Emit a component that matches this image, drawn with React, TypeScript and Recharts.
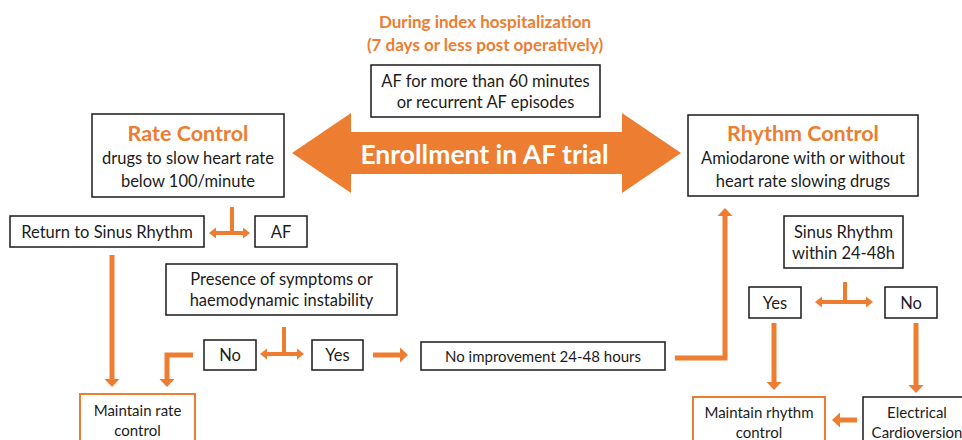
import React from 'react';
import { ScatterChart, Scatter, XAxis, YAxis } from 'recharts';

const W = 962;
const H = 440;
const ORANGE = '#ED7D31';
const INK = '#1c1c1c';
const FONT = 'Lato, "Open Sans", sans-serif';

// ---- Data: flowchart nodes (text) ----
const nodeTitles: Record<string, string> = {
  rate: 'Rate Control',
  rhythm: 'Rhythm Control',
};
const nodeLines: Record<string, string[]> = {
  af: ['AF for more than 60 minutes', 'or recurrent AF episodes'],
  rate: ['drugs to slow heart rate', 'below 100/minute'],
  rhythm: ['Amiodarone with or without', 'heart rate slowing drugs'],
  returnSR: ['Return to Sinus Rhythm'],
  afNode: ['AF'],
  presence: ['Presence of symptoms or', 'haemodynamic instability'],
  no1: ['No'],
  yes1: ['Yes'],
  noImp: ['No improvement 24-48 hours'],
  sinus: ['Sinus Rhythm', 'within 24-48h'],
  yes2: ['Yes'],
  no2: ['No'],
  maintainRate: ['Maintain rate', 'control'],
  maintainRhythm: ['Maintain rhythm', 'control'],
  electrical: ['Electrical', 'Cardioversion'],
};
// node centres in the diagram's coordinate space
const nodeCenters = [
  { id: 'af', x: 485.5, y: 91 },
  { id: 'rate', x: 188, y: 155.5 },
  { id: 'rhythm', x: 803, y: 155.5 },
  { id: 'returnSR', x: 107, y: 231.5 },
  { id: 'afNode', x: 281, y: 231.5 },
  { id: 'presence', x: 281.5, y: 289.5 },
  { id: 'no1', x: 230, y: 355 },
  { id: 'yes1', x: 337.5, y: 355 },
  { id: 'noImp', x: 543, y: 356 },
  { id: 'sinus', x: 843.5, y: 242 },
  { id: 'yes2', x: 775, y: 302.5 },
  { id: 'no2', x: 911, y: 302.5 },
  { id: 'maintainRate', x: 137.5, y: 420 },
  { id: 'maintainRhythm', x: 759, y: 422 },
  { id: 'electrical', x: 917, y: 422 },
];

// header texts
const headerLines = [
  { x: 485, y: 21, text: 'During index hospitalization' },
  { x: 485, y: 44, text: '(7 days or less post operatively)' },
];
const enrollment = [{ x: 486.5, y: 153, text: 'Enrollment in AF trial' }];

// connectors: polylines, with arrow heads at the ends where noted
type Pt = { x: number; y: number; head?: 'up' | 'down' | 'left' | 'right' };
const links: { id: string; pts: Pt[]; kind: 'main' | 'small' }[] = [
  { id: 'rateT', pts: [{ x: 232, y: 207 }, { x: 232, y: 233 }], kind: 'small' },
  { id: 'rateSplit', pts: [{ x: 243, y: 233, head: 'right' }, { x: 216, y: 233, head: 'left' }], kind: 'small' },
  { id: 'returnDown', pts: [{ x: 112, y: 255 }, { x: 112, y: 379, head: 'down' }], kind: 'main' },
  { id: 'presT', pts: [{ x: 284, y: 327 }, { x: 284, y: 354 }], kind: 'small' },
  { id: 'presSplit', pts: [{ x: 297, y: 354, head: 'right' }, { x: 267, y: 354, head: 'left' }], kind: 'small' },
  { id: 'noDown', pts: [{ x: 193, y: 355 }, { x: 167, y: 355 }, { x: 167, y: 379, head: 'down' }], kind: 'main' },
  { id: 'yesRight', pts: [{ x: 373, y: 355 }, { x: 400, y: 355, head: 'right' }], kind: 'main' },
  { id: 'noImpUp', pts: [{ x: 675, y: 358 }, { x: 725, y: 358 }, { x: 725, y: 216, head: 'up' }], kind: 'main' },
  { id: 'sinusT', pts: [{ x: 845, y: 282 }, { x: 845, y: 302 }], kind: 'small' },
  { id: 'sinusSplit', pts: [{ x: 866, y: 302, head: 'right' }, { x: 822, y: 302, head: 'left' }], kind: 'small' },
  { id: 'yes2Down', pts: [{ x: 774, y: 323 }, { x: 774, y: 382, head: 'down' }], kind: 'main' },
  { id: 'no2Down', pts: [{ x: 916, y: 323 }, { x: 916, y: 385, head: 'down' }], kind: 'main' },
  { id: 'ecLeft', pts: [{ x: 857, y: 420 }, { x: 840, y: 420, head: 'left' }], kind: 'main' },
];

// ---- Styles ----
const nodeSize: Record<string, [number, number]> = {
  af: [229, 52],
  rate: [192, 83],
  rhythm: [230, 81],
  returnSR: [194, 31],
  afNode: [52, 31],
  presence: [231, 51],
  no1: [52, 30],
  yes1: [51, 30],
  noImp: [244, 28],
  sinus: [119, 52],
  yes2: [52, 31],
  no2: [52, 31],
  maintainRate: [115, 52],
  maintainRhythm: [132, 50],
  electrical: [108, 50],
};
const orangeBorder: Record<string, boolean> = { maintainRate: true, maintainRhythm: true };
const smallText: Record<string, boolean> = {
  maintainRate: true,
  maintainRhythm: true,
  electrical: true,
  noImp: true,
};
const linkStyle = {
  main: { width: 5, headW: 15, headL: 8 },
  small: { width: 4, headW: 11, headL: 7 },
};
const bigArrow = { tip: 194.5, base: 135.5, headHalf: 40, shaftHalf: 21 };

const NodeShape = (props: any) => {
  const { cx, cy, payload } = props;
  const id = payload.id as string;
  const [w, h] = nodeSize[id];
  const lines = nodeLines[id];
  const title = nodeTitles[id];
  const fs = smallText[id] ? 15 : 16.5;
  const lh = smallText[id] ? 20 : 21;
  const stroke = orangeBorder[id] ? ORANGE : '#1a1a1a';
  const els: React.ReactNode[] = [];
  if (title) {
    els.push(
      <text key="t" x={cx} y={cy - 22.5} textAnchor="middle" dominantBaseline="central"
        fontFamily={FONT} fontWeight={700} fontSize={21.5} fill={ORANGE}>{title}</text>
    );
    lines.forEach((l, i) =>
      els.push(
        <text key={i} x={cx} y={cy + 2.5 + i * 23} textAnchor="middle" dominantBaseline="central"
          fontFamily={FONT} fontSize={fs} fill={INK}>{l}</text>
      )
    );
  } else {
    const start = cy - ((lines.length - 1) * lh) / 2;
    lines.forEach((l, i) =>
      els.push(
        <text key={i} x={cx} y={start + i * lh} textAnchor="middle" dominantBaseline="central"
          fontFamily={FONT} fontSize={fs} fill={INK}>{l}</text>
      )
    );
  }
  return (
    <g>
      <rect x={cx - w / 2} y={cy - h / 2} width={w} height={h} fill="#fff" stroke={stroke}
        strokeWidth={orangeBorder[id] ? 2 : 1.5} />
      {els}
    </g>
  );
};

const makeHead = (kind: 'main' | 'small') => (props: any) => {
  const { cx, cy, payload } = props;
  const st = linkStyle[kind];
  const hw = st.headW / 2;
  const L = st.headL;
  let pts = '';
  switch (payload.head) {
    case 'down':
      pts = `${cx - hw},${cy} ${cx + hw},${cy} ${cx},${cy + L}`;
      break;
    case 'up':
      pts = `${cx - hw},${cy} ${cx + hw},${cy} ${cx},${cy - L}`;
      break;
    case 'left':
      pts = `${cx},${cy - hw} ${cx},${cy + hw} ${cx - L},${cy}`;
      break;
    case 'right':
      pts = `${cx},${cy - hw} ${cx},${cy + hw} ${cx + L},${cy}`;
      break;
    default:
      return <g />;
  }
  return <polygon points={pts} fill={ORANGE} />;
};

const HeaderShape = (props: any) => (
  <text x={props.cx} y={props.cy} textAnchor="middle" dominantBaseline="central"
    fontFamily={FONT} fontWeight={700} fontSize={17} fill={ORANGE}>{props.payload.text}</text>
);

const BigArrowShape = (props: any) => {
  const { cx, cy, payload } = props;
  const a = bigArrow;
  const pts = [
    [cx - a.tip, cy],
    [cx - a.base, cy - a.headHalf],
    [cx - a.base, cy - a.shaftHalf],
    [cx + a.base, cy - a.shaftHalf],
    [cx + a.base, cy - a.headHalf],
    [cx + a.tip, cy],
    [cx + a.base, cy + a.headHalf],
    [cx + a.base, cy + a.shaftHalf],
    [cx - a.base, cy + a.shaftHalf],
    [cx - a.base, cy + a.headHalf],
  ].map((p) => p.join(',')).join(' ');
  return (
    <g>
      <polygon points={pts} fill={ORANGE} />
      <text x={cx - 2} y={cy + 1} textAnchor="middle" dominantBaseline="central"
        fontFamily={FONT} fontWeight={700} fontSize={26.5} fill="#fff">{payload.text}</text>
    </g>
  );
};

export default function App() {
  return (
    <div style={{ position: 'absolute', left: 0, top: 0, width: W, height: H, background: '#fff' }}>
      <ScatterChart width={W} height={H} margin={{ top: 0, right: 0, bottom: 0, left: 0 }}>
        <XAxis type="number" dataKey="x" domain={[0, W]} hide />
        <YAxis type="number" dataKey="y" domain={[0, H]} reversed hide />
        {links.map((lk) => (
          <Scatter
            key={lk.id}
            data={lk.pts}
            line={{ stroke: ORANGE, strokeWidth: linkStyle[lk.kind].width }}
            lineType="joint"
            shape={makeHead(lk.kind)}
            isAnimationActive={false}
          />
        ))}
        <Scatter data={enrollment} shape={BigArrowShape} isAnimationActive={false} />
        <Scatter data={headerLines} shape={HeaderShape} isAnimationActive={false} />
        <Scatter data={nodeCenters} shape={NodeShape} isAnimationActive={false} />
      </ScatterChart>
    </div>
  );
}
